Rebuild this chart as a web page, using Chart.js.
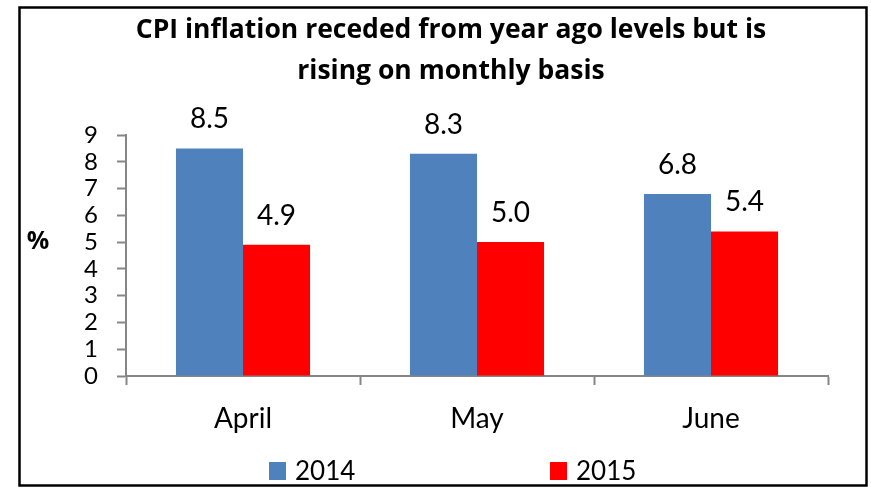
<!DOCTYPE html>
<html>
<head>
<meta charset="utf-8">
<script src="https://cdn.jsdelivr.net/npm/chart.js@4"></script>
<style>
  html, body { margin: 0; padding: 0; background: #fff; }
  #wrap { width: 871px; height: 488px; position: relative; }
</style>
</head>
<body>
<div id="wrap"><canvas id="c" width="871" height="488"></canvas></div>
<script>
const categories = ['April', 'May', 'June'];
const series2014 = [8.5, 8.3, 6.8];
const series2015 = [4.9, 5.0, 5.4];
const seriesNames = ['2014', '2015'];
const yTicks = [0, 1, 2, 3, 4, 5, 6, 7, 8, 9];
const titleLines = ['CPI inflation receded from year ago levels but is', 'rising on monthly basis'];
const yAxisLabel = '%';

const FONT = 'Lato, "Open Sans", sans-serif';
const TITLE_FONT = '"Open Sans", Lato, sans-serif';
const AXIS = '#868686';

const framePlugin = {
  id: 'frame',
  afterDraw(chart) {
    const ctx = chart.ctx;
    ctx.save();
    ctx.strokeStyle = '#000';
    ctx.lineWidth = 2.5;
    ctx.strokeRect(19.5, 7.5, 847, 478);
    ctx.restore();
  }
};

const dataLabelPlugin = {
  id: 'dataLabels',
  afterDatasetsDraw(chart) {
    const ctx = chart.ctx;
    ctx.save();
    ctx.font = '28px ' + FONT;
    ctx.fillStyle = '#000';
    ctx.textAlign = 'center';
    ctx.textBaseline = 'alphabetic';
    chart.data.datasets.forEach((ds, di) => {
      const meta = chart.getDatasetMeta(di);
      meta.data.forEach((el, i) => {
        ctx.fillText(Number(ds.data[i]).toFixed(1), el.x, el.y - 20);
      });
    });
    ctx.restore();
  }
};

const yLabelPlugin = {
  id: 'yLabel',
  afterDraw(chart) {
    const ctx = chart.ctx;
    const y = chart.scales.y;
    ctx.save();
    ctx.font = 'bold 25px ' + TITLE_FONT;
    ctx.fillStyle = '#000';
    ctx.textAlign = 'center';
    ctx.textBaseline = 'middle';
    ctx.fillText(yAxisLabel, 38, y.getPixelForValue(5.0));
    ctx.restore();
  }
};

const legendPlugin = {
  id: 'customLegend',
  afterDraw(chart) {
    const ctx = chart.ctx;
    ctx.save();
    ctx.font = '26px ' + FONT;
    ctx.textBaseline = 'middle';
    ctx.textAlign = 'left';
    const starts = [269, 550];
    const cy = 471;
    chart.data.datasets.forEach((ds, i) => {
      const x = starts[i];
      ctx.fillStyle = ds.backgroundColor;
      ctx.fillRect(x, cy - 9, 17, 18);
      ctx.fillStyle = '#000';
      ctx.fillText(ds.label, x + 26, cy + 1);
    });
    ctx.restore();
  }
};

new Chart(document.getElementById('c'), {
  type: 'bar',
  data: {
    labels: categories,
    datasets: [
      { label: seriesNames[0], data: series2014, backgroundColor: '#4F81BD', borderWidth: 0 },
      { label: seriesNames[1], data: series2015, backgroundColor: '#FF0000', borderWidth: 0 }
    ]
  },
  options: {
    responsive: false,
    animation: false,
    devicePixelRatio: 1,
    layout: { padding: { left: 74, right: 43, top: 0, bottom: 52 } },
    datasets: { bar: { categoryPercentage: 0.573, barPercentage: 1.0 } },
    plugins: {
      legend: { display: false },
      tooltip: { enabled: false },
      title: {
        display: true,
        text: titleLines,
        color: '#000',
        font: { family: TITLE_FONT, size: 26.5, weight: 'bold', lineHeight: '41px' },
        padding: { top: 10, bottom: 43 }
      }
    },
    scales: {
      x: {
        offset: true,
        grid: { offset: true, drawOnChartArea: false, drawTicks: true, tickLength: 9, tickColor: AXIS, tickWidth: 2 },
        border: { display: true, color: AXIS, width: 2 },
        ticks: { color: '#000', font: { family: FONT, size: 28 }, padding: 17, maxRotation: 0 },
        afterFit(scale) { scale.height = 60; }
      },
      y: {
        min: 0,
        max: 9,
        afterBuildTicks(scale) { scale.ticks = yTicks.map(v => ({ value: v })); },
        grid: { drawOnChartArea: false, drawTicks: true, tickLength: 9, tickColor: AXIS, tickWidth: 2 },
        border: { display: true, color: AXIS, width: 2 },
        ticks: { color: '#000', font: { family: FONT, size: 24 }, padding: 19, autoSkip: false },
        afterFit(scale) { scale.width = 52; }
      }
    }
  },
  plugins: [dataLabelPlugin, yLabelPlugin, legendPlugin, framePlugin]
});
</script>
</body>
</html>
